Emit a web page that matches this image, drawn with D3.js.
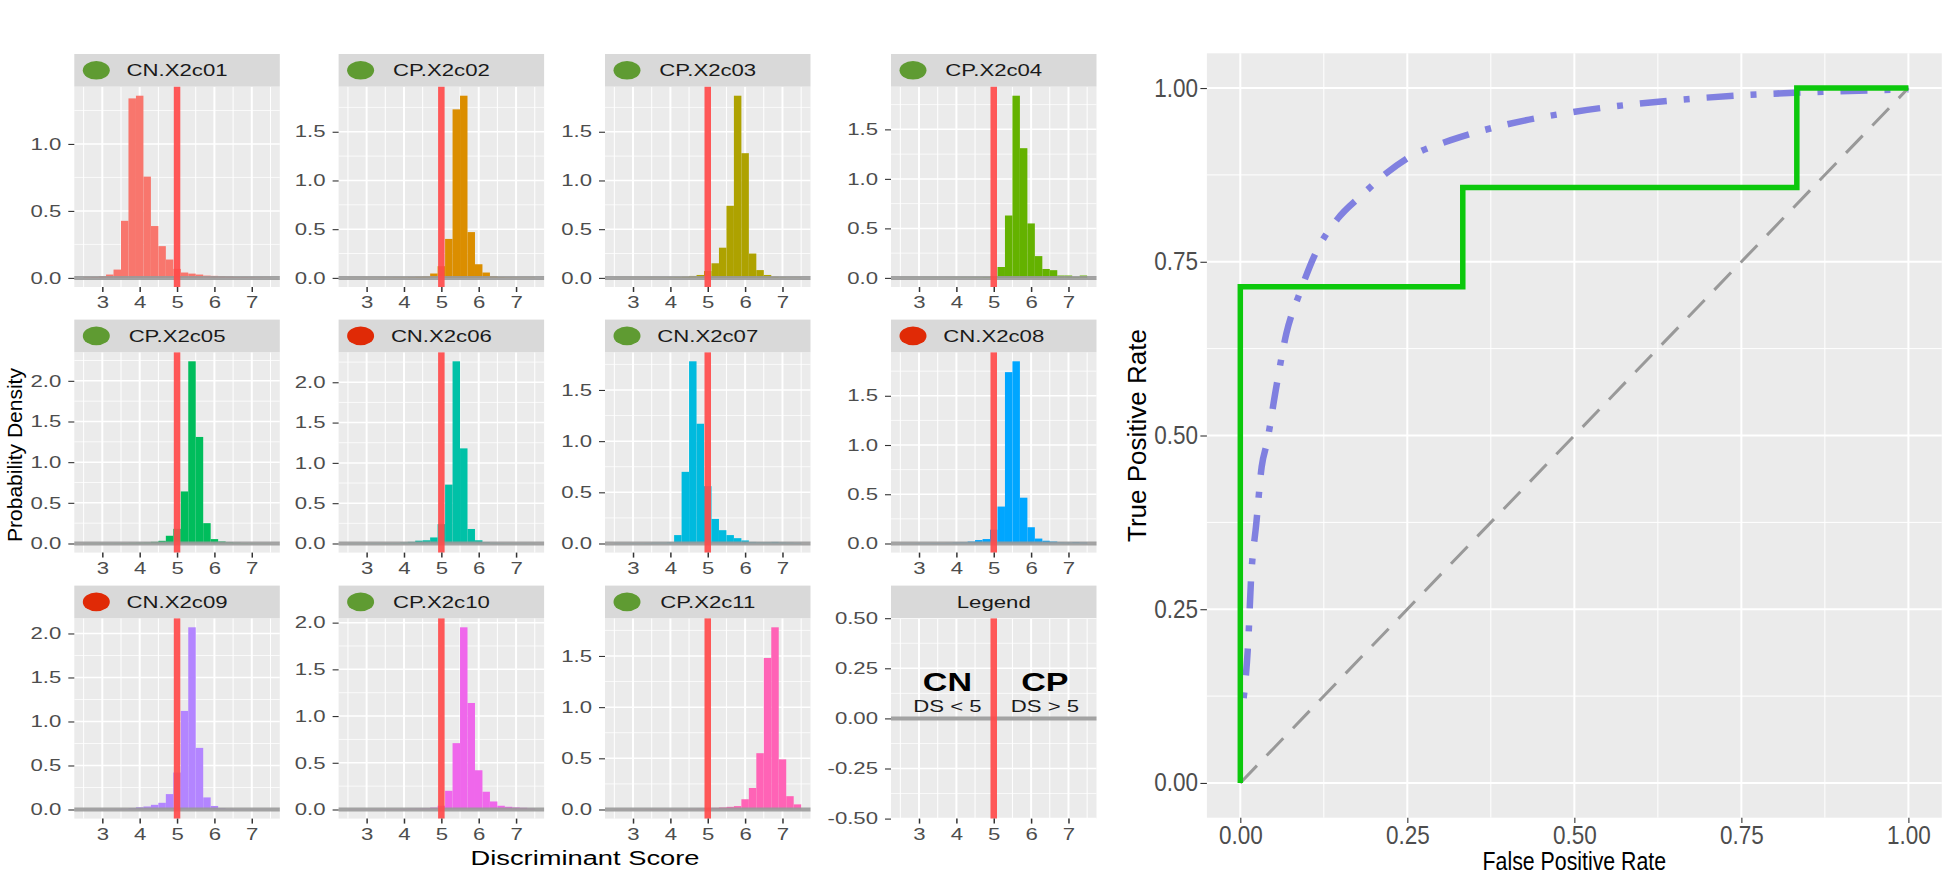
<!DOCTYPE html>
<html><head><meta charset="utf-8">
<script src="https://cdn.jsdelivr.net/npm/d3@7"></script>
<style>body{margin:0;background:#fff}svg{display:block}</style>
</head><body>
<svg id="chart" width="1946" height="874"></svg>
<script>
// ---------- DATA ----------
const binCenters = [2.6,2.8,3.0,3.2,3.4,3.6,3.8,4.0,4.2,4.4,4.6,4.8,5.0,5.2,5.4,5.6,5.8,6.0,6.2,6.4,6.6,6.8,7.0,7.2,7.4];
const binWidth = 0.2;
const dsX2c01 = [0.005,0.007,0.012,0.025,0.062,0.426,1.34,1.36,0.756,0.387,0.237,0.137,0.067,0.04,0.032,0.025,0.017,0.015,0.012,0.01,0.007,0.006,0.005,0.004,0.003];
const dsX2c02 = [0.002,0.002,0.003,0.003,0.004,0.005,0.006,0.006,0.008,0.012,0.015,0.045,0.12,0.40,1.73,1.87,0.47,0.14,0.055,0.017,0.008,0.006,0.005,0.004,0.004];
const dsX2c03 = [0.002,0.002,0.003,0.003,0.004,0.004,0.005,0.006,0.008,0.012,0.02,0.03,0.07,0.15,0.31,0.74,1.87,1.28,0.25,0.08,0.03,0.012,0.006,0.004,0.004];
const dsX2c04 = [0.002,0.002,0.002,0.003,0.003,0.003,0.004,0.004,0.005,0.005,0.006,0.008,0.017,0.11,0.63,1.84,1.31,0.55,0.22,0.09,0.078,0.024,0.024,0.01,0.024];
const dsX2c05 = [0.003,0.003,0.004,0.004,0.005,0.006,0.008,0.01,0.012,0.02,0.033,0.095,0.18,0.64,2.24,1.31,0.25,0.054,0.025,0.015,0.01,0.006,0.005,0.004,0.004];
const dsX2c06 = [0.003,0.003,0.004,0.005,0.005,0.006,0.006,0.012,0.02,0.035,0.04,0.075,0.24,0.73,2.26,1.18,0.18,0.04,0.015,0.008,0.006,0.005,0.004,0.004,0.003];
const dsX2c07 = [0.003,0.003,0.004,0.004,0.005,0.008,0.008,0.012,0.082,0.70,1.78,1.17,0.56,0.24,0.13,0.082,0.052,0.03,0.015,0.012,0.012,0.015,0.01,0.008,0.006];
const dsX2c08 = [0.003,0.003,0.004,0.004,0.005,0.005,0.006,0.01,0.012,0.02,0.035,0.045,0.14,0.375,1.74,1.85,0.465,0.165,0.05,0.028,0.02,0.012,0.01,0.015,0.01];
const dsX2c09 = [0.003,0.003,0.004,0.004,0.005,0.008,0.015,0.025,0.034,0.053,0.076,0.175,0.42,1.12,2.07,0.70,0.137,0.04,0.015,0.008,0.005,0.004,0.003,0.003,0.003];
const dsX2c10 = [0.003,0.003,0.003,0.004,0.004,0.005,0.005,0.006,0.008,0.01,0.012,0.02,0.04,0.2,0.71,1.95,1.14,0.42,0.19,0.086,0.04,0.029,0.022,0.018,0.01];
const dsX2c11 = [0.003,0.003,0.003,0.003,0.004,0.004,0.004,0.004,0.004,0.005,0.006,0.008,0.012,0.016,0.02,0.026,0.033,0.1,0.21,0.55,1.48,1.78,0.49,0.13,0.05];
const panelLabels = ["CN.X2c01","CP.X2c02","CP.X2c03","CP.X2c04","CP.X2c05","CN.X2c06","CN.X2c07","CN.X2c08","CN.X2c09","CP.X2c10","CP.X2c11"];
const panelCorrect = [true,true,true,true,true,false,true,false,false,true,true];
const threshold = 5;
const xTickValues = [3,4,5,6,7];
const xMinorValues = [2.5,3.5,4.5,5.5,6.5,7.5];
const densityTicks = [0,0.5,1.0,1.5,2.0];
const legendTicks = [-0.5,-0.25,0,0.25,0.5];
const legendMinor = [-0.375,-0.125,0.125,0.375];
const rocTicks = [0,0.25,0.5,0.75,1];
const rocMinor = [0.125,0.375,0.625,0.875];
const rocStepFpr = [0,0,0.333,0.833,1];
const rocStepTpr = [0,0.714,0.857,1,1];
const rocSmoothFpr = [0.005,0.012,0.016,0.024,0.032,0.040,0.053,0.069,0.089,0.113,0.145,0.182,0.218,0.250,0.315,0.396,0.501,0.622,0.759,0.881,1.0];
const rocSmoothTpr = [0.122,0.206,0.292,0.374,0.455,0.490,0.565,0.647,0.705,0.763,0.811,0.846,0.877,0.899,0.925,0.947,0.966,0.980,0.990,0.995,0.998];

// ---------- STYLE / LAYOUT ----------
const series = [dsX2c01,dsX2c02,dsX2c03,dsX2c04,dsX2c05,dsX2c06,dsX2c07,dsX2c08,dsX2c09,dsX2c10,dsX2c11];
const histColors = ["#F8766D","#DB8E00","#AEA200","#64B200","#00BD5C","#00C1A7","#00BADE","#00A6FF","#B385FF","#EF67EB","#FF63B6"];
const FONT = "'Liberation Sans', Arial, Helvetica, sans-serif";
const svg = d3.select('#chart').attr('font-family', FONT);
const colLeft = [74.3, 338.6, 605, 891];
const rowTop = [54, 319.6, 585.6];
const stripH = 32.6, panelW = 205.5, panelH = 200.4;
const SXL = 1.36, SXR = 0.9;
const TXT = '#4D4D4D';

function sText(parent, x, y, str, o) {
  const tr = `translate(${x},${y})` + (o.sx ? ` scale(${o.sx},1)` : '') + (o.rotate ? ` rotate(${o.rotate})` : '');
  parent.append('g').attr('transform', tr)
    .append('text').attr('text-anchor', o.anchor || 'middle')
    .attr('font-size', o.size).attr('font-weight', o.weight || 'normal')
    .attr('fill', o.fill || '#000').text(str);
}

function drawPanel(idx) {
  const col = idx % 4, row = Math.floor(idx / 4);
  const left = colLeft[col], sTop = rowTop[row], top = sTop + stripH, bottom = top + panelH;
  const isLegend = idx === 11;
  const g = svg.append('g');
  const x = d3.scaleLinear().domain([2.25, 7.75]).range([left, left + panelW]);
  let y, yTicks, yMinor, fmt;
  if (!isLegend) {
    const m = d3.max(series[idx]);
    y = d3.scaleLinear().domain([-0.05 * m, 1.05 * m]).range([bottom, top]);
    yTicks = densityTicks.filter(t => t <= 1.05 * m);
    yMinor = yTicks.map(t => t + 0.25).filter(t => t <= 1.05 * m);
    fmt = d => d.toFixed(1);
  } else {
    y = d3.scaleLinear().domain([-0.5, 0.5]).range([bottom, top]);
    yTicks = legendTicks; yMinor = legendMinor;
    fmt = d => d.toFixed(2);
  }
  g.append('rect').attr('x', left).attr('y', top).attr('width', panelW).attr('height', panelH).attr('fill', '#EBEBEB');
  // minor grid
  g.selectAll(null).data(xMinorValues).enter().append('line')
    .attr('x1', d => x(d)).attr('x2', d => x(d)).attr('y1', top).attr('y2', bottom)
    .attr('stroke', '#fff').attr('stroke-width', 1.0);
  g.selectAll(null).data(yMinor).enter().append('line')
    .attr('x1', left).attr('x2', left + panelW).attr('y1', d => y(d)).attr('y2', d => y(d))
    .attr('stroke', '#fff').attr('stroke-width', 0.75);
  // major grid
  g.selectAll(null).data(xTickValues).enter().append('line')
    .attr('x1', d => x(d)).attr('x2', d => x(d)).attr('y1', top).attr('y2', bottom)
    .attr('stroke', '#fff').attr('stroke-width', 2.0);
  g.selectAll(null).data(yTicks).enter().append('line')
    .attr('x1', left).attr('x2', left + panelW).attr('y1', d => y(d)).attr('y2', d => y(d))
    .attr('stroke', '#fff').attr('stroke-width', 1.5);
  // bars
  if (!isLegend) {
    const vals = series[idx];
    g.selectAll(null).data(binCenters).enter().append('rect')
      .attr('x', d => x(d - binWidth / 2)).attr('width', d => x(d + binWidth / 2) - x(d - binWidth / 2))
      .attr('y', (d, i) => y(vals[i])).attr('height', (d, i) => y(0) - y(vals[i]))
      .attr('fill', histColors[idx]);
  }
  // zero line and threshold line
  g.append('line').attr('x1', left).attr('x2', left + panelW).attr('y1', y(0)).attr('y2', y(0))
    .attr('stroke', '#999999').attr('stroke-opacity', 0.9).attr('stroke-width', 4);
  g.append('line').attr('x1', x(threshold)).attr('x2', x(threshold)).attr('y1', top).attr('y2', bottom)
    .attr('stroke', '#FF4A4A').attr('stroke-opacity', 0.92).attr('stroke-width', 6.5);
  // strip
  g.append('rect').attr('x', left).attr('y', sTop).attr('width', panelW).attr('height', stripH).attr('fill', '#D9D9D9');
  if (!isLegend) {
    g.append('ellipse').attr('cx', left + 22).attr('cy', sTop + stripH / 2).attr('rx', 13.5).attr('ry', 9.3)
      .attr('fill', panelCorrect[idx] ? '#5F9B32' : '#E02A06');
  }
  sText(g, left + panelW / 2, sTop + stripH / 2 + 5.9, isLegend ? 'Legend' : panelLabels[idx],
    { size: 16.3, sx: SXL, fill: '#1A1A1A' });
  // legend annotations
  if (isLegend) {
    sText(g, x(3.76), y(0.135), 'CN', { size: 25, sx: SXL, weight: 'bold' });
    sText(g, x(3.76), y(0.03), 'DS < 5', { size: 16.3, sx: SXL, fill: '#1A1A1A' });
    sText(g, x(6.37), y(0.135), 'CP', { size: 25, sx: SXL, weight: 'bold' });
    sText(g, x(6.37), y(0.03), 'DS > 5', { size: 16.3, sx: SXL, fill: '#1A1A1A' });
  }
  // axes
  const gy = g.append('g').attr('transform', `translate(${left},0)`)
    .call(d3.axisLeft(y).tickValues(yTicks).tickFormat(fmt).tickSize(6).tickPadding(0));
  styleAxis(gy, 16.3, SXL);
  gy.selectAll('text').attr('x', -13 / SXL);
  const gx = g.append('g').attr('transform', `translate(0,${bottom})`)
    .call(d3.axisBottom(x).tickValues(xTickValues).tickFormat(d3.format('d')).tickSize(5).tickPadding(4.4));
  styleAxis(gx, 16.3, SXL);
  gx.selectAll('line').attr('stroke-width', 1.5);
}

function styleAxis(ax, size, sx) {
  ax.attr('font-family', null).attr('font-size', null);
  ax.select('.domain').remove();
  ax.selectAll('line').attr('stroke', '#333333').attr('stroke-width', 1.1);
  ax.selectAll('text').attr('fill', TXT).attr('font-size', size).attr('font-family', FONT)
    .attr('transform', `scale(${sx},1)`);
}

for (let i = 0; i < 12; i++) drawPanel(i);

// left axis titles
sText(svg, 585, 865, 'Discriminant Score', { size: 21, sx: 1.3 });
sText(svg, 22, 455, 'Probability Density', { size: 21, rotate: -90 });

// ---------- ROC ----------
(function () {
  const L = 1206.9, R = 1941.8, T = 53.3, B = 817.7;
  const rx = d3.scaleLinear().domain([-0.05, 1.05]).range([L, R]);
  const ry = d3.scaleLinear().domain([-0.05, 1.05]).range([B, T]);
  const g = svg.append('g');
  g.append('rect').attr('x', L).attr('y', T).attr('width', R - L).attr('height', B - T).attr('fill', '#EBEBEB');
  g.selectAll(null).data(rocMinor).enter().append('line')
    .attr('x1', d => rx(d)).attr('x2', d => rx(d)).attr('y1', T).attr('y2', B).attr('stroke', '#fff').attr('stroke-width', 1);
  g.selectAll(null).data(rocMinor).enter().append('line')
    .attr('x1', L).attr('x2', R).attr('y1', d => ry(d)).attr('y2', d => ry(d)).attr('stroke', '#fff').attr('stroke-width', 1);
  g.selectAll(null).data(rocTicks).enter().append('line')
    .attr('x1', d => rx(d)).attr('x2', d => rx(d)).attr('y1', T).attr('y2', B).attr('stroke', '#fff').attr('stroke-width', 2);
  g.selectAll(null).data(rocTicks).enter().append('line')
    .attr('x1', L).attr('x2', R).attr('y1', d => ry(d)).attr('y2', d => ry(d)).attr('stroke', '#fff').attr('stroke-width', 2);
  // chance diagonal
  g.append('line').attr('x1', rx(0)).attr('y1', ry(0)).attr('x2', rx(1)).attr('y2', ry(1))
    .attr('stroke', '#999999').attr('stroke-width', 3).attr('stroke-dasharray', '24,14');
  // smooth curve
  const smooth = rocSmoothFpr.map((f, i) => [f, rocSmoothTpr[i]]);
  g.append('path').datum(smooth)
    .attr('d', d3.line().x(d => rx(d[0])).y(d => ry(d[1])).curve(d3.curveMonotoneX))
    .attr('fill', 'none').attr('stroke', '#8080E0').attr('stroke-width', 6.5)
    .attr('stroke-dasharray', '6,17,27,17');
  // empirical step curve
  const step = rocStepFpr.map((f, i) => [f, rocStepTpr[i]]);
  g.append('path').datum(step)
    .attr('d', d3.line().x(d => rx(d[0])).y(d => ry(d[1])).curve(d3.curveStepAfter))
    .attr('fill', 'none').attr('stroke', '#0CC80C').attr('stroke-width', 5.5);
  // axes
  const gy = g.append('g').attr('transform', `translate(${L},0)`)
    .call(d3.axisLeft(ry).tickValues(rocTicks).tickFormat(d => d.toFixed(2)).tickSize(6.5).tickPadding(0));
  styleAxis(gy, 25, SXR);
  gy.selectAll('text').attr('x', -9 / SXR);
  const gx = g.append('g').attr('transform', `translate(0,${B})`)
    .call(d3.axisBottom(rx).tickValues(rocTicks).tickFormat(d => d.toFixed(2)).tickSize(5.3).tickPadding(3.7));
  styleAxis(gx, 25, SXR);
  sText(svg, (L + R) / 2, 870, 'False Positive Rate', { size: 26, sx: 0.82 });
  sText(svg, 1146, (T + B) / 2, 'True Positive Rate', { size: 26, rotate: -90 });
})();
</script>
</body></html>
